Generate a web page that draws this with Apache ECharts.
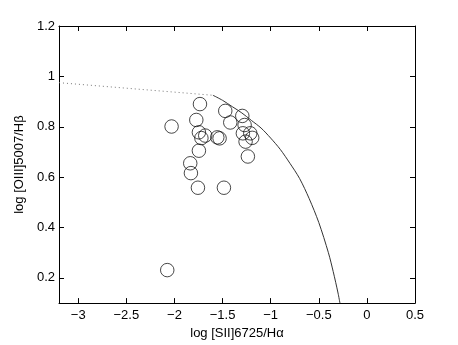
<!DOCTYPE html>
<html>
<head>
<meta charset="utf-8">
<script src="https://cdn.jsdelivr.net/npm/echarts@6/dist/echarts.min.js"></script>
<style>
  html, body { margin: 0; padding: 0; background: #fff; }
  #chart { width: 458px; height: 345px; }
</style>
</head>
<body>
<div id="chart"></div>
<script>
// observed points: [log SII/Ha, log OIII/Hb]
const sulfurRatio = [-2.03, -1.735, -1.773, -1.746, -1.72, -1.68, -1.746, -1.836, -1.829, -1.756,
  -1.486, -2.075, -1.555, -1.531, -1.472, -1.42, -1.295, -1.271, -1.289, -1.261, -1.212, -1.192, -1.237];
const oxygenRatio = [0.801, 0.890, 0.827, 0.778, 0.755, 0.765, 0.705, 0.655, 0.616, 0.558,
  0.558, 0.231, 0.758, 0.754, 0.863, 0.817, 0.843, 0.807, 0.774, 0.741, 0.774, 0.756, 0.682];

// boundary curve
const curveX = [-1.6, -1.5, -1.4, -1.3, -1.2, -1.1, -1.0, -0.9, -0.8, -0.7, -0.6, -0.5, -0.4, -0.35, -0.3, -0.28];
const curveY = [0.925, 0.905, 0.88, 0.855, 0.825, 0.795, 0.755, 0.71, 0.655, 0.595, 0.515, 0.42, 0.30, 0.225, 0.14, 0.10];

// dotted extension
const dottedX = [-3.2, -1.6];
const dottedY = [0.975, 0.925];

const xTicks = [-3, -2.5, -2, -1.5, -1, -0.5, 0, 0.5];
const yTicks = [0.2, 0.4, 0.6, 0.8, 1, 1.2];

const zip = (a, b) => a.map((v, i) => [v, b[i]]);
const font = 'Liberation Sans';
const minus = v => String(v).replace('-', '\u2212');

const baseX = {
  type: 'value', min: -3.2, max: 0.5,
  axisLine: { show: true, onZero: false, lineStyle: { color: '#000', width: 1 } },
  axisTick: { show: true, inside: true, length: 5, customValues: xTicks, lineStyle: { color: '#000' } },
  splitLine: { show: false }
};
const baseY = {
  type: 'value', min: 0.1, max: 1.2,
  axisLine: { show: true, onZero: false, lineStyle: { color: '#000', width: 1 } },
  axisTick: { show: true, inside: true, length: 5, customValues: yTicks, lineStyle: { color: '#000' } },
  splitLine: { show: false }
};

const chart = echarts.init(document.getElementById('chart'), null, { renderer: 'canvas' });
chart.setOption({
  animation: false,
  backgroundColor: '#fff',
  grid: { left: 59, right: 43, top: 26, bottom: 39 },
  xAxis: [
    Object.assign({}, baseX, {
      position: 'bottom',
      name: 'log [SII]6725/H\u03b1',
      nameLocation: 'middle', nameGap: 21,
      nameTextStyle: { fontFamily: font, fontSize: 13, color: '#000' },
      axisLabel: { customValues: xTicks, margin: 6, fontFamily: font, fontSize: 13, color: '#000', formatter: minus }
    }),
    Object.assign({}, baseX, { position: 'top', axisLabel: { show: false } })
  ],
  yAxis: [
    Object.assign({}, baseY, {
      position: 'left',
      name: 'log [OIII]5007/H\u03b2',
      nameLocation: 'middle', nameGap: 26,
      nameTextStyle: { fontFamily: font, fontSize: 13, color: '#000' },
      axisLabel: { customValues: yTicks, margin: 4, fontFamily: font, fontSize: 13, color: '#000', formatter: minus }
    }),
    Object.assign({}, baseY, { position: 'right', axisLabel: { show: false } })
  ],
  series: [
    {
      type: 'line', data: zip(dottedX, dottedY), symbol: 'none', silent: true,
      lineStyle: { color: '#777', width: 1, type: [1, 3] }
    },
    {
      type: 'line', data: zip(curveX, curveY), symbol: 'none', smooth: 0.3, silent: true,
      lineStyle: { color: '#333', width: 1 }
    },
    {
      type: 'scatter', data: zip(sulfurRatio, oxygenRatio), symbol: 'circle', symbolSize: 13.5,
      itemStyle: { color: 'rgba(0,0,0,0)', borderColor: '#000', borderWidth: 0.9 }
    }
  ]
});
</script>
</body>
</html>
